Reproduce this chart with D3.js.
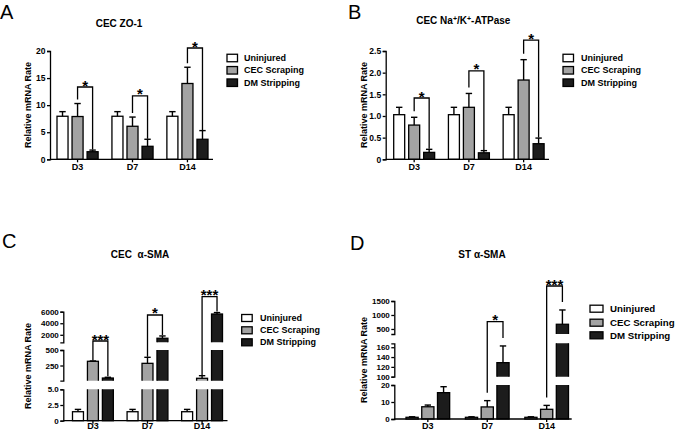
<!DOCTYPE html>
<html><head><meta charset="utf-8">
<script src="https://cdn.jsdelivr.net/npm/d3@7"></script>
<style>
body{margin:0;background:#fff}
svg{display:block}
text{font-family:"Liberation Sans",Arial,Helvetica,sans-serif}
</style>
</head><body>
<svg id="chart" width="675" height="432"></svg>
<script>
// ---------- DATA ----------
const categories = ["D3", "D7", "D14"];
const seriesNames = ["Uninjured", "CEC Scraping", "DM Stripping"];

// Panel A: CEC ZO-1
const aUninjured = [7.95, 7.95, 7.95];
const aUninjuredErr = [0.85, 0.85, 0.85];
const aScraping = [7.9, 6.1, 14.0];
const aScrapingErr = [2.4, 1.7, 3.0];
const aStripping = [1.4, 2.4, 3.7];
const aStrippingErr = [0.3, 1.3, 1.6];
const aTicks = [0, 5, 10, 15, 20];
const aBracketTops = [13.35, 11.7, 20.55];
const aStars = ["*", "*", "*"];

// Panel B: CEC Na+/K+-ATPase
const bUninjured = [1.03, 1.03, 1.03];
const bUninjuredErr = [0.17, 0.17, 0.17];
const bScraping = [0.79, 1.2, 1.83];
const bScrapingErr = [0.18, 0.32, 0.47];
const bStripping = [0.16, 0.15, 0.36];
const bStrippingErr = [0.07, 0.05, 0.13];
const bTicks = [0, 0.5, 1.0, 1.5, 2.0, 2.5];
const bBracketTops = [1.415, 2.04, 2.75];
const bStars = ["*", "*", "*"];

// Panel C: CEC alpha-SMA (broken axis)
const cUninjured = [1.43, 1.43, 1.43];
const cUninjuredErr = [0.37, 0.37, 0.37];
const cScraping = [318, 285, 44];
const cScrapingErr = [5, 97, 42];
const cStripping = [48, 1400, 5600];
const cStrippingErr = [12, 400, 250];
const cTicksLow = [0, 2.5, 5.0];
const cTicksMid = [250, 500];
const cTicksHigh = [2000, 4000, 6000];
const cBracketTops = [925, 5430, 8600];
const cStars = ["***", "*", "***"];

// Panel D: ST alpha-SMA (broken axis)
const dUninjured = [1.0, 1.0, 1.0];
const dUninjuredErr = [0.3, 0.3, 0.3];
const dScraping = [7.2, 7.1, 5.7];
const dScrapingErr = [1.0, 3.7, 2.3];
const dStripping = [15.5, 128.6, 668];
const dStrippingErr = [3.5, 34, 511];
const dTicksLow = [0, 10, 20];
const dTicksMid = [100, 120, 140, 160];
const dTicksHigh = [500, 1000, 1500];
const dBracketTops = [null, 760, 2036];
const dStars = [null, "*", "***"];

// ---------- STYLE / LAYOUT ----------
const fills = ["#ffffff", "#a3a3a3", "#1c1c1c"];
const svg = d3.select("#chart");
const fmtDec = v => v === 0 ? "0" : d3.format(".1f")(v);
const fmtInt = d3.format("d");
const FONT = '"Liberation Sans",Arial,sans-serif';

const panels = [
  {
    id: "A", letter: [0, 19], title: "CEC ZO-1", titlePos: [119, 27],
    means: [aUninjured, aScraping, aStripping], errs: [aUninjuredErr, aScrapingErr, aStrippingErr],
    brackets: aBracketTops, stars: aStars,
    axisX: 50, axisEnd: 213, band: [57, 208], inner: 0.2667, pad: 0.2516,
    segs: [{lo: 0, hi: 20, r: [159.3, 51], ticks: aTicks, fmt: fmtInt}],
    tickFont: 8.5, yLabel: [29, 105], xLabelBase: 170,
    legend: {x: 227, w: 10.5, h: 7.5, rows: [58, 70.3, 82.7], tx: 244, fs: 9},
    gapL: 4, gapR: 0.5
  },
  {
    id: "B", letter: [348, 19], title: null, titlePos: [463.3, 24],
    means: [bUninjured, bScraping, bStripping], errs: [bUninjuredErr, bScrapingErr, bStrippingErr],
    brackets: bBracketTops, stars: bStars,
    axisX: 385.7, axisEnd: 549, band: [393.7, 544.1], inner: 0.2667, pad: 0.2516,
    segs: [{lo: 0, hi: 2.5, r: [159.3, 51], ticks: bTicks, fmt: fmtDec}],
    tickFont: 8.5, yLabel: [364.3, 105], xLabelBase: 170,
    legend: {x: 563, w: 10.5, h: 7.5, rows: [58, 70.3, 82.7], tx: 581, fs: 9},
    gapL: 6, gapR: 0.5
  },
  {
    id: "C", letter: [2, 248], title: "CEC  \u03b1-SMA", titlePos: [140, 258],
    means: [cUninjured, cScraping, cStripping], errs: [cUninjuredErr, cScrapingErr, cStrippingErr],
    brackets: cBracketTops, stars: cStars,
    axisX: 63.3, axisEnd: 227.5, band: [72.5, 222.5], inner: 0.2667, pad: 0.2516,
    segs: [
      {lo: 0, hi: 5, r: [420.7, 389.3], ticks: cTicksLow, fmt: fmtDec},
      {lo: 5, hi: 500, r: [380.7, 350], ticks: cTicksMid, fmt: fmtInt},
      {lo: 700, hi: 6000, r: [342.3, 311.7], ticks: cTicksHigh, fmt: fmtInt}
    ],
    tickFont: 8, yLabel: [29, 366], xLabelBase: 429.5,
    legend: {x: 241.7, w: 10.5, h: 7, rows: [318, 330.3, 342.3], tx: 260, fs: 9},
    gapL: 0.5, gapR: 1
  },
  {
    id: "D", letter: [350, 250], title: "ST \u03b1-SMA", titlePos: [482, 258],
    means: [dUninjured, dScraping, dStripping], errs: [dUninjuredErr, dScrapingErr, dStrippingErr],
    brackets: dBracketTops, stars: dStars,
    axisX: 394.3, axisEnd: 571.7, band: [406, 568.5], inner: 0.226, pad: 0.265,
    segs: [
      {lo: 0, hi: 20, r: [419, 385], ticks: dTicksLow, fmt: fmtInt},
      {lo: 100, hi: 168, r: [376.7, 343.3], ticks: dTicksMid, fmt: fmtInt},
      {lo: 320, hi: 1500, r: [334, 301], ticks: dTicksHigh, fmt: fmtInt}
    ],
    tickFont: 8, yLabel: [364.3, 360], xLabelBase: 429,
    legend: {x: 590, w: 13, h: 7, rows: [308.7, 322.7, 335.3], tx: 610, fs: 9.7},
    gapL: 8, gapR: 8
  }
];

panels.forEach((p, pi) => {
  const g = svg.append("g");
  const scales = p.segs.map(s => d3.scaleLinear().domain([s.lo, s.hi]).range(s.r));
  const y = v => {
    for (let i = p.segs.length - 1; i >= 0; i--) if (v >= p.segs[i].lo) return scales[i](v);
    return scales[0](v);
  };
  const y0 = p.segs[0].r[0];

  const x0 = d3.scaleBand().domain(categories).range(p.band).paddingOuter(0).paddingInner(p.pad);
  const x1 = d3.scaleBand().domain(seriesNames).range([0, x0.bandwidth()]).paddingInner(p.inner);
  const bw = x1.bandwidth();

  // clip paths per axis segment
  p.segs.forEach((s, k) => {
    const top = k === p.segs.length - 1 ? s.r[1] - 80 : s.r[1];
    const bot = k === 0 ? s.r[0] + 3 : s.r[0];
    svg.append("clipPath").attr("id", `clip${pi}_${k}`)
      .append("rect").attr("x", 0).attr("width", 675).attr("y", top).attr("height", bot - top);
  });

  categories.forEach((c, ci) => {
    seriesNames.forEach((sn, si) => {
      const v = p.means[si][ci];
      const bx = x0(c) + x1(sn);
      p.segs.forEach((s, k) => {
        if (k > 0 && v <= s.lo) return;
        const sc = scales[k];
        const bottom = k === 0 ? sc(0) : s.r[0] + 3;
        const top = v > s.hi ? s.r[1] - 3 : sc(v);
        g.append("rect")
          .attr("clip-path", `url(#clip${pi}_${k})`)
          .attr("x", bx).attr("y", top).attr("width", bw).attr("height", bottom - top)
          .attr("fill", fills[si]).attr("stroke", "#000").attr("stroke-width", 1.3);
      });
      const e = p.errs[si][ci];
      const cx = bx + bw / 2;
      g.append("line").attr("x1", cx).attr("x2", cx).attr("y1", y(v)).attr("y2", y(v + e))
        .attr("stroke", "#000").attr("stroke-width", 1.4);
      g.append("line").attr("x1", cx - 3.2).attr("x2", cx + 3.2).attr("y1", y(v + e)).attr("y2", y(v + e))
        .attr("stroke", "#000").attr("stroke-width", 1.4);
    });
    const bt = p.brackets[ci];
    if (bt != null) {
      const lx = x0(c) + x1(seriesNames[1]) + bw / 2;
      const rx = x0(c) + x1(seriesNames[2]) + bw / 2;
      const ty = y(bt);
      const ly = y(p.means[1][ci] + p.errs[1][ci]) - p.gapL;
      const ry = y(p.means[2][ci] + p.errs[2][ci]) - p.gapR;
      g.append("path").attr("d", `M${lx},${ly}V${ty}H${rx}V${ry}`)
        .attr("fill", "none").attr("stroke", "#000").attr("stroke-width", 1.3);
      g.append("text").attr("x", (lx + rx) / 2).attr("y", ty + 3.5)
        .attr("text-anchor", "middle").attr("font-size", 15).attr("font-weight", "bold")
        .text(p.stars[ci]);
    }
  });

  // y axis segments
  p.segs.forEach((s, k) => {
    const ax = g.append("g").attr("transform", `translate(${p.axisX},0)`)
      .call(d3.axisLeft(scales[k]).tickValues(s.ticks).tickFormat(s.fmt)
        .tickSizeInner(3).tickSizeOuter(3).tickPadding(1.5));
    ax.selectAll("path,line").attr("stroke", "#000").attr("stroke-width", 1.3);
    ax.selectAll("text").attr("font-size", p.tickFont).attr("font-weight", "bold")
      .attr("font-family", FONT).attr("fill", "#000");
  });

  // x axis
  g.append("line").attr("x1", p.axisX).attr("x2", p.axisEnd).attr("y1", y0).attr("y2", y0)
    .attr("stroke", "#000").attr("stroke-width", 1.3);
  const xa = g.append("g").attr("transform", `translate(0,${y0})`)
    .call(d3.axisBottom(x0).tickSize(3).tickPadding(1.5));
  xa.select(".domain").remove();
  xa.selectAll("line").attr("stroke", "#000").attr("stroke-width", 1.3);
  xa.selectAll("text").attr("font-size", 9).attr("font-weight", "bold")
    .attr("font-family", FONT).attr("fill", "#000")
    .attr("dy", null).attr("y", p.xLabelBase - y0);

  // y label
  g.append("text").attr("transform", `translate(${p.yLabel[0]},${p.yLabel[1]}) rotate(-90)`)
    .attr("text-anchor", "middle").attr("dominant-baseline", "middle")
    .attr("font-size", 9).attr("font-weight", "bold").text("Relative mRNA Rate");

  // title
  const t = g.append("text").attr("x", p.titlePos[0]).attr("y", p.titlePos[1])
    .attr("text-anchor", "middle").attr("font-size", 10).attr("font-weight", "bold")
    .style("white-space", "pre");
  if (p.title) t.text(p.title);
  else {
    t.append("tspan").text("CEC Na");
    t.append("tspan").attr("baseline-shift", "super").attr("font-size", 7).text("+");
    t.append("tspan").text("/K");
    t.append("tspan").attr("baseline-shift", "super").attr("font-size", 7).text("+");
    t.append("tspan").text("-ATPase");
  }

  // panel letter
  g.append("text").attr("x", p.letter[0]).attr("y", p.letter[1])
    .attr("font-size", 20).text(p.id);

  // legend
  const L = p.legend;
  seriesNames.forEach((sn, si) => {
    g.append("rect").attr("x", L.x).attr("y", L.rows[si] - L.h / 2).attr("width", L.w).attr("height", L.h)
      .attr("fill", fills[si]).attr("stroke", "#000").attr("stroke-width", 1.3);
    g.append("text").attr("x", L.tx).attr("y", L.rows[si]).attr("dominant-baseline", "central")
      .attr("font-size", L.fs).attr("font-weight", "bold").text(sn);
  });
});
</script>
</body></html>
